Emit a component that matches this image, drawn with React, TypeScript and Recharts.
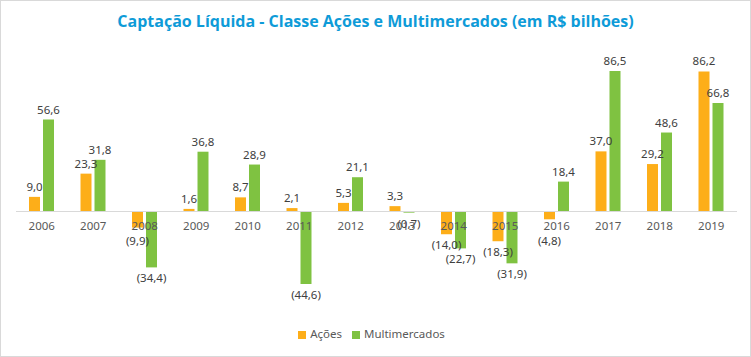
import React from 'react';
import { BarChart, Bar, Line, XAxis, YAxis, Legend, ReferenceLine, LabelList } from 'recharts';

const years = ['2006', '2007', '2008', '2009', '2010', '2011', '2012', '2013', '2014', '2015', '2016', '2017', '2018', '2019'];
const acoes = [9.0, 23.3, -9.9, 1.6, 8.7, 2.1, 5.3, 3.3, -14.0, -18.3, -4.8, 37.0, 29.2, 86.2];
const multimercados = [56.6, 31.8, -34.4, 36.8, 28.9, -44.6, 21.1, -0.7, -22.7, -31.9, 18.4, 86.5, 48.6, 66.8];

const data = years.map((year, i) => ({ year, acoes: acoes[i], multi: multimercados[i] }));

const FONT = '"Noto Sans", sans-serif';
const ORANGE = '#FDAE19';
const GREEN = '#7FC241';

const fmt = (v: number) => {
  const s = Math.abs(v).toFixed(1).replace('.', ',');
  return v < 0 ? `(${s})` : s;
};

// value label above positive bars, below negative ones
// minBelow keeps small negative labels clear of the year labels (as Excel did for Ações)
const makeValueLabel = (minBelow: number) => (props: any) => {
  const { x, y, width, height, value } = props;
  const top = Math.min(y, y + height);
  const bottom = Math.max(y, y + height);
  const ty = value >= 0 ? top - 6 : Math.max(bottom + 15, top + minBelow);
  return (
    <text x={x + width / 2} y={ty} textAnchor="middle" fontSize={11.5} fill="#404040" fontFamily={FONT}>
      {fmt(value)}
    </text>
  );
};

const YearLabel = (props: any) => {
  const { x, y, value } = props;
  return (
    <text x={x} y={y + 18} textAnchor="middle" fontSize={11.5} fill="#595959" fontFamily={FONT}>
      {value}
    </text>
  );
};

export default function App() {
  return (
    <div
      style={{
        position: 'absolute',
        left: 0,
        top: 0,
        width: 751,
        height: 357,
        boxSizing: 'border-box',
        border: '1px solid #d9d9d9',
        background: '#fff',
      }}
    >
      <div
        style={{
          position: 'absolute',
          top: 9,
          left: 0,
          width: '100%',
          textAlign: 'center',
          fontFamily: '"Open Sans", sans-serif',
          fontWeight: 700,
          fontSize: 16,
          color: '#0E9BD8',
        }}
      >
        Captação Líquida - Classe Ações e Multimercados (em R$ bilhões)
      </div>
      <BarChart
        width={749}
        height={355}
        data={data}
        margin={{ top: 48, right: 13, bottom: 20, left: 15 }}
        barGap={3}
        barSize={11}
      >
        <XAxis dataKey="year" hide />
        <YAxis hide domain={[-60, 100]} />
        <ReferenceLine y={0} stroke="#d9d9d9" />
        <Bar dataKey="acoes" name="Ações" fill={ORANGE} isAnimationActive={false}>
          <LabelList dataKey="acoes" content={makeValueLabel(33)} />
        </Bar>
        <Bar dataKey="multi" name="Multimercados" fill={GREEN} isAnimationActive={false}>
          <LabelList dataKey="multi" content={makeValueLabel(0)} />
        </Bar>
        <Line
          dataKey={() => 0}
          stroke="none"
          dot={false}
          activeDot={false}
          legendType="none"
          isAnimationActive={false}
        >
          <LabelList dataKey="year" content={YearLabel} />
        </Line>
        <Legend
          verticalAlign="bottom"
          height={27}
          iconType="square"
          iconSize={8}
          wrapperStyle={{ fontFamily: FONT, fontSize: 11.5, bottom: 3 }}
          formatter={(value: string) => <span style={{ color: '#595959' }}>{value}</span>}
        />
      </BarChart>
    </div>
  );
}
